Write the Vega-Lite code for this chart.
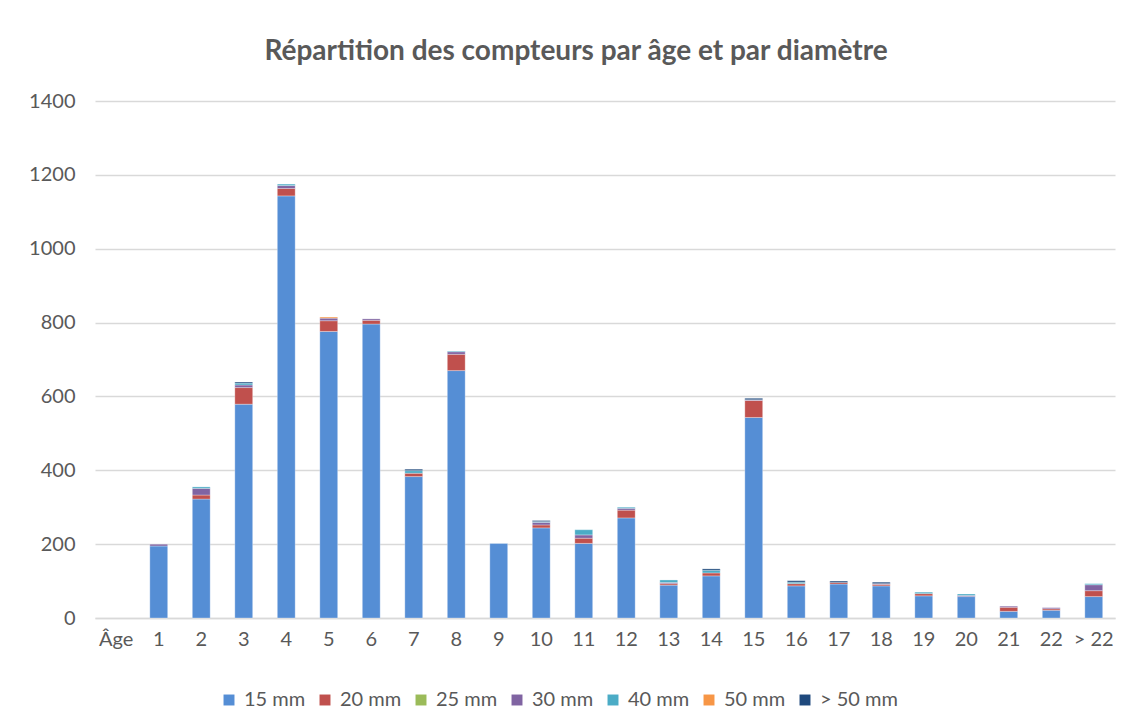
{
  "$schema": "https://vega.github.io/schema/vega-lite/v6.json",
  "width": 1020,
  "height": 517,
  "autosize": "none",
  "padding": {"left": 95, "top": 101, "right": 14, "bottom": 107},
  "background": "white",
  "title": {
    "text": "Répartition des compteurs par âge et par diamètre",
    "font": "Lato",
    "fontSize": 28,
    "fontWeight": "bold",
    "color": "#595959",
    "anchor": "middle",
    "dx": -29,
    "offset": 25
  },
  "data": {
    "values": [
      {"age": "1", "diam": "15 mm", "n": 195},
      {"age": "1", "diam": "30 mm", "n": 5},
      {"age": "2", "diam": "15 mm", "n": 322},
      {"age": "2", "diam": "20 mm", "n": 11},
      {"age": "2", "diam": "30 mm", "n": 18},
      {"age": "2", "diam": "40 mm", "n": 4},
      {"age": "3", "diam": "15 mm", "n": 579},
      {"age": "3", "diam": "20 mm", "n": 45},
      {"age": "3", "diam": "30 mm", "n": 7},
      {"age": "3", "diam": "40 mm", "n": 5},
      {"age": "3", "diam": "> 50 mm", "n": 3},
      {"age": "4", "diam": "15 mm", "n": 1143},
      {"age": "4", "diam": "20 mm", "n": 20},
      {"age": "4", "diam": "30 mm", "n": 8},
      {"age": "4", "diam": "40 mm", "n": 4},
      {"age": "5", "diam": "15 mm", "n": 776},
      {"age": "5", "diam": "20 mm", "n": 29},
      {"age": "5", "diam": "30 mm", "n": 7},
      {"age": "5", "diam": "50 mm", "n": 3},
      {"age": "6", "diam": "15 mm", "n": 796},
      {"age": "6", "diam": "20 mm", "n": 10},
      {"age": "6", "diam": "30 mm", "n": 4},
      {"age": "7", "diam": "15 mm", "n": 383},
      {"age": "7", "diam": "20 mm", "n": 9},
      {"age": "7", "diam": "40 mm", "n": 7},
      {"age": "7", "diam": "> 50 mm", "n": 4},
      {"age": "8", "diam": "15 mm", "n": 670},
      {"age": "8", "diam": "20 mm", "n": 44},
      {"age": "8", "diam": "30 mm", "n": 7},
      {"age": "8", "diam": "40 mm", "n": 2},
      {"age": "9", "diam": "15 mm", "n": 202},
      {"age": "10", "diam": "15 mm", "n": 244},
      {"age": "10", "diam": "20 mm", "n": 8},
      {"age": "10", "diam": "30 mm", "n": 7},
      {"age": "10", "diam": "40 mm", "n": 2},
      {"age": "10", "diam": "> 50 mm", "n": 3},
      {"age": "11", "diam": "15 mm", "n": 202},
      {"age": "11", "diam": "20 mm", "n": 14},
      {"age": "11", "diam": "30 mm", "n": 9},
      {"age": "11", "diam": "40 mm", "n": 14},
      {"age": "12", "diam": "15 mm", "n": 271},
      {"age": "12", "diam": "20 mm", "n": 21},
      {"age": "12", "diam": "30 mm", "n": 5},
      {"age": "12", "diam": "40 mm", "n": 3},
      {"age": "13", "diam": "15 mm", "n": 89},
      {"age": "13", "diam": "20 mm", "n": 4},
      {"age": "13", "diam": "30 mm", "n": 3},
      {"age": "13", "diam": "40 mm", "n": 7},
      {"age": "14", "diam": "15 mm", "n": 114},
      {"age": "14", "diam": "20 mm", "n": 8},
      {"age": "14", "diam": "40 mm", "n": 7},
      {"age": "14", "diam": "> 50 mm", "n": 4},
      {"age": "15", "diam": "15 mm", "n": 543},
      {"age": "15", "diam": "20 mm", "n": 46},
      {"age": "15", "diam": "30 mm", "n": 2},
      {"age": "15", "diam": "> 50 mm", "n": 4},
      {"age": "16", "diam": "15 mm", "n": 87},
      {"age": "16", "diam": "20 mm", "n": 6},
      {"age": "16", "diam": "40 mm", "n": 4},
      {"age": "16", "diam": "> 50 mm", "n": 4},
      {"age": "17", "diam": "15 mm", "n": 92},
      {"age": "17", "diam": "20 mm", "n": 4},
      {"age": "17", "diam": "> 50 mm", "n": 4},
      {"age": "18", "diam": "15 mm", "n": 87},
      {"age": "18", "diam": "20 mm", "n": 4},
      {"age": "18", "diam": "30 mm", "n": 2},
      {"age": "18", "diam": "> 50 mm", "n": 4},
      {"age": "19", "diam": "15 mm", "n": 60},
      {"age": "19", "diam": "20 mm", "n": 6},
      {"age": "19", "diam": "40 mm", "n": 4},
      {"age": "20", "diam": "15 mm", "n": 58},
      {"age": "20", "diam": "30 mm", "n": 3},
      {"age": "20", "diam": "40 mm", "n": 4},
      {"age": "21", "diam": "15 mm", "n": 18},
      {"age": "21", "diam": "20 mm", "n": 11},
      {"age": "21", "diam": "30 mm", "n": 3},
      {"age": "22", "diam": "15 mm", "n": 21},
      {"age": "22", "diam": "20 mm", "n": 4},
      {"age": "22", "diam": "30 mm", "n": 3},
      {"age": "> 22", "diam": "15 mm", "n": 58},
      {"age": "> 22", "diam": "20 mm", "n": 16},
      {"age": "> 22", "diam": "30 mm", "n": 16},
      {"age": "> 22", "diam": "40 mm", "n": 3}
    ]
  },
  "mark": {"type": "bar", "stroke": "white", "strokeWidth": 0.6, "strokeOpacity": 0.5},
  "encoding": {
    "x": {
      "field": "age",
      "type": "nominal",
      "scale": {
        "domain": ["Âge", "1", "2", "3", "4", "5", "6", "7", "8", "9", "10", "11", "12", "13", "14", "15", "16", "17", "18", "19", "20", "21", "22", "> 22"],
        "paddingInner": 0.58,
        "paddingOuter": 0.29
      },
      "axis": {
        "title": null,
        "labelAngle": 0,
        "ticks": false,
        "domainColor": "#D9D9D9",
        "domainWidth": 1.5,
        "labelFont": "Lato",
        "labelFontSize": 20,
        "labelColor": "#595959",
        "labelPadding": 11
      }
    },
    "y": {
      "field": "n",
      "type": "quantitative",
      "aggregate": "sum",
      "stack": "zero",
      "scale": {"domain": [0, 1400], "nice": false},
      "axis": {
        "title": null,
        "format": "d",
        "values": [0, 200, 400, 600, 800, 1000, 1200, 1400],
        "domain": false,
        "ticks": false,
        "gridColor": "#D9D9D9",
        "gridWidth": 1.5,
        "labelFont": "Lato",
        "labelFontSize": 20,
        "labelColor": "#595959",
        "labelPadding": 20
      }
    },
    "order": {"field": "diam", "sort": "ascending"},
    "color": {
      "field": "diam",
      "type": "nominal",
      "scale": {
        "domain": ["15 mm", "20 mm", "25 mm", "30 mm", "40 mm", "50 mm", "> 50 mm"],
        "range": ["#558ED5", "#C0504D", "#9BBB59", "#8064A2", "#4BACC6", "#F79646", "#1F497D"]
      },
      "legend": {
        "title": null,
        "orient": "none",
        "direction": "horizontal",
        "legendX": 124,
        "legendY": 589,
        "symbolType": "square",
        "symbolSize": 120,
        "symbolStrokeWidth": 0,
        "labelFont": "Lato",
        "labelFontSize": 20,
        "labelColor": "#595959",
        "columnPadding": 9,
        "labelOffset": 5
      }
    }
  },
  "config": {"view": {"stroke": null}}
}
